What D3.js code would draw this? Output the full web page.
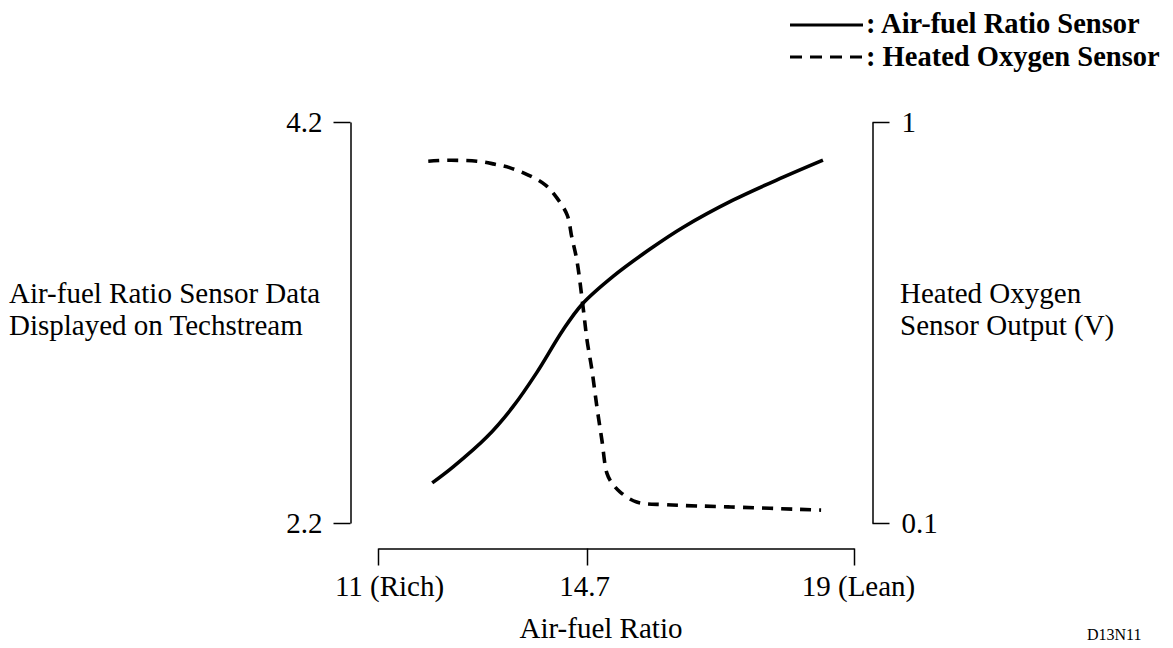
<!DOCTYPE html>
<html><head><meta charset="utf-8">
<script src="https://cdn.jsdelivr.net/npm/d3@7"></script>
<style>
html,body{margin:0;padding:0;background:#fff;}
text{font-family:"Liberation Serif","Times New Roman",serif;fill:#000;}
</style></head>
<body>
<svg id="chart" width="1173" height="648"></svg>
<script>
// ---- data ----
const xTicks = [11, 14.7, 19];
const xTickLabels = ["11 (Rich)", "14.7", "19 (Lean)"];
const leftTicks = [2.2, 4.2];
const rightTicks = [0.1, 1];
const rightTickLabels = ["0.1", "1"];
// Air-fuel ratio sensor (left axis)
const afAFR   = [11.96, 12.33, 12.93, 13.39, 13.81, 14.27, 14.61, 15.12, 15.71, 16.25, 17.05, 17.86, 18.50];
const afValue = [2.40, 2.48, 2.63, 2.78, 2.95, 3.16, 3.29, 3.43, 3.565, 3.675, 3.81, 3.925, 4.01];
// Heated oxygen sensor (right axis, V)
const hoAFR   = [11.89, 12.22, 12.75, 13.04, 13.34, 13.66, 13.96, 14.17, 14.35, 14.43, 14.52, 14.63, 14.70, 14.78, 14.86, 14.94, 15.02, 15.10, 15.23, 15.50, 15.99, 17.02, 18.47];
const hoValue = [0.912, 0.914, 0.912, 0.906, 0.897, 0.881, 0.859, 0.829, 0.791, 0.742, 0.690, 0.585, 0.511, 0.443, 0.360, 0.286, 0.212, 0.190, 0.170, 0.147, 0.141, 0.136, 0.129];

// ---- layout ----
const svg = d3.select("#chart");
const x = d3.scaleLinear().domain(xTicks).range([378, 587, 854]);
const yL = d3.scaleLinear().domain([2.2, 4.2]).range([523, 122]);
const yR = d3.scaleLinear().domain([0.1, 1]).range([523, 122]);
const xLabelDx = [11, -3, 4];

// left axis
const gL = svg.append("g").attr("transform", "translate(350.5,0)")
  .call(d3.axisLeft(yL).tickValues(leftTicks).tickFormat(d3.format(".1f"))
    .tickSizeInner(17).tickSizeOuter(0).tickPadding(11));
// right axis
const gR = svg.append("g").attr("transform", "translate(872.5,0)")
  .call(d3.axisRight(yR).tickValues(rightTicks).tickFormat((d,i)=>rightTickLabels[i])
    .tickSizeInner(17).tickSizeOuter(0).tickPadding(12));
// bottom axis
const gB = svg.append("g").attr("transform", "translate(0,548.5)")
  .call(d3.axisBottom(x).tickValues(xTicks).tickFormat((d,i)=>xTickLabels[i])
    .tickSizeInner(17).tickSizeOuter(0).tickPadding(10));
gB.selectAll(".tick text").attr("dx", (d,i)=>xLabelDx[i]);

[gL, gR, gB].forEach(g => {
  g.selectAll("path.domain").attr("stroke", "#000").attr("stroke-width", 1.5);
  g.selectAll(".tick line").attr("stroke", "#000").attr("stroke-width", 1.5);
  g.selectAll(".tick text").style("font-family", '"Liberation Serif","Times New Roman",serif')
    .style("font-size", "29px").attr("fill", "#000");
});

// curves
const afData = afAFR.map((a,i)=>({a, v: afValue[i]}));
const hoData = hoAFR.map((a,i)=>({a, v: hoValue[i]}));
svg.append("path").datum(afData)
  .attr("d", d3.line().x(d=>x(d.a)).y(d=>yL(d.v)).curve(d3.curveCatmullRom.alpha(0.5)))
  .attr("fill","none").attr("stroke","#000").attr("stroke-width",3.6);
svg.append("path").datum(hoData)
  .attr("d", d3.line().x(d=>x(d.a)).y(d=>yR(d.v)).curve(d3.curveCatmullRom.alpha(0.5)))
  .attr("fill","none").attr("stroke","#000").attr("stroke-width",3.6)
  .attr("stroke-dasharray","11,8");

// axis titles
const fs = 29;
const lt = svg.append("text").style("font-size", fs+"px");
lt.append("tspan").attr("x", 9).attr("y", 303).text("Air-fuel Ratio Sensor Data");
lt.append("tspan").attr("x", 9).attr("y", 335).text("Displayed on Techstream");
const rt = svg.append("text").style("font-size", fs+"px");
rt.append("tspan").attr("x", 900).attr("y", 303).text("Heated Oxygen");
rt.append("tspan").attr("x", 900).attr("y", 335).text("Sensor Output (V)");
svg.append("text").attr("x", 601).attr("y", 638).attr("text-anchor","middle")
  .style("font-size", fs+"px").text("Air-fuel Ratio");
svg.append("text").attr("x", 1087).attr("y", 640).style("font-size","16px").text("D13N11");

// legend
const lg = svg.append("g");
lg.append("line").attr("x1",790).attr("x2",863).attr("y1",25).attr("y2",25)
  .attr("stroke","#000").attr("stroke-width",3.2);
lg.append("line").attr("x1",790).attr("x2",863).attr("y1",57).attr("y2",57)
  .attr("stroke","#000").attr("stroke-width",3.2).attr("stroke-dasharray","12,8");
lg.append("text").attr("x",866).attr("y",33).style("font-size","28.5px").style("font-weight","bold")
  .text(": Air-fuel Ratio Sensor");
lg.append("text").attr("x",866).attr("y",66).style("font-size","28.5px").style("font-weight","bold")
  .text(": Heated Oxygen Sensor");
</script>
</body></html>
